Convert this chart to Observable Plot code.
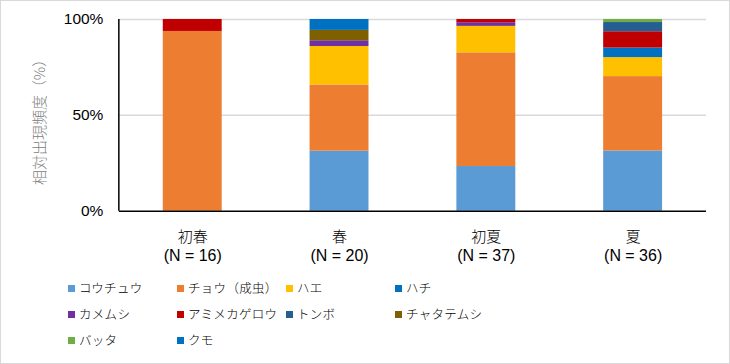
<!DOCTYPE html>
<html>
<head>
<meta charset="utf-8">
<script src="https://cdn.jsdelivr.net/npm/d3@7"></script>
<script src="https://cdn.jsdelivr.net/npm/@observablehq/plot@0.6"></script>
<style>
  html, body { margin: 0; padding: 0; background: #fff; }
  #wrap { position: relative; width: 730px; height: 364px; box-sizing: border-box; border: 1px solid #d9d9d9; overflow: hidden; }
  #chart { position: absolute; left: -1px; top: -1px; }
  .leg { position: absolute; font-family: "Noto Sans CJK JP", sans-serif; font-size: 12.5px; font-weight: 300; color: #000; white-space: nowrap; line-height: 14px; letter-spacing: 0.3px; }
  .sw { display: inline-block; width: 7px; height: 7px; margin-right: 4px; vertical-align: 1px; }
</style>
</head>
<body>
<div id="wrap"><div id="chart"></div></div>
<script>
const seasons = ["初春", "春", "初夏", "夏"];
const sampleN = [16, 20, 37, 36];
const species = ["コウチュウ", "チョウ（成虫）", "ハエ", "ハチ", "カメムシ", "アミメカゲロウ", "トンボ", "チャタテムシ", "バッタ", "クモ"];
const colors = ["#5B9BD5", "#ED7D31", "#FFC000", "#0070C0", "#7030A0", "#C00000", "#255E91", "#7F6000", "#70AD47", "#0070C0"];
// percentage per species (same order as species) for each season
const earlySpring = [0, 93.75, 0, 0, 0, 6.25, 0, 0, 0, 0];
const spring      = [31.3, 34.5, 20.1, 0, 3.0, 0, 0, 5.4, 0, 5.7];
const earlySummer = [23.3, 59.3, 13.8, 0, 1.9, 1.7, 0, 0, 0, 0];
const summer      = [31.4, 38.8, 9.9, 5.0, 0, 8.5, 4.8, 0, 1.6, 0];
const yTicks = [0, 50, 100];
const yTickLabels = ["0%", "50%", "100%"];

const seriesBySeason = [earlySpring, spring, earlySummer, summer];
const rows = [];
seasons.forEach((s, si) => {
  species.forEach((sp, k) => {
    rows.push({season: s, species: sp, value: seriesBySeason[si][k]});
  });
});

const nLabel = new Map(seasons.map((s, i) => [s, `(N = ${sampleN[i]})`]));

// left axis line drawn at the frame's left edge
function leftAxisLine(index, scales, values, dims) {
  return d3.create("svg:line")
    .attr("x1", dims.marginLeft).attr("x2", dims.marginLeft)
    .attr("y1", scales.y(100)).attr("y2", scales.y(0))
    .attr("stroke", "#000").attr("stroke-width", 1.5)
    .node();
}

const plot = Plot.plot({
  width: 730,
  height: 364,
  marginLeft: 119,
  marginRight: 23,
  marginTop: 19,
  marginBottom: 153,
  style: {fontFamily: "'Liberation Sans', Arial, sans-serif", fontSize: "15px", color: "#000", background: "transparent"},
  x: {domain: seasons, paddingInner: 0.6, paddingOuter: 0.3, axis: null},
  y: {domain: [0, 100], axis: null},
  color: {domain: species, range: colors},
  marks: [
    Plot.ruleY(yTicks.filter(d => d > 0), {stroke: "#d9d9d9", strokeWidth: 1.5}),
    Plot.barY(rows, {x: "season", y: "value", fill: "species", order: null}),
    Plot.ruleY([0], {stroke: "#000", strokeWidth: 1.5}),
    leftAxisLine,
    Plot.text(yTicks, {y: d => d, text: (d, i) => yTickLabels[i], frameAnchor: "left", textAnchor: "end", dx: -16, fontSize: 15.5, fill: "#000"}),
    Plot.text(seasons, {x: d => d, text: d => d, frameAnchor: "bottom", lineAnchor: "middle", dy: 26, fontSize: 15, fontWeight: 300, fill: "#000", fontFamily: "'Noto Sans CJK JP', sans-serif"}),
    Plot.text(seasons, {x: d => d, text: d => nLabel.get(d), frameAnchor: "bottom", lineAnchor: "middle", dy: 45, fontSize: 16, fill: "#000"}),
    Plot.text(["相対出現頻度（%）"], {text: d => d, frameAnchor: "left", textAnchor: "middle", dx: -79, dy: 3, rotate: -90, fontSize: 15, fontWeight: 300, fill: "#808080", fontFamily: "'Noto Sans CJK JP', sans-serif"})
  ]
});
document.getElementById("chart").appendChild(plot);

// legend (4 columns)
const wrap = document.getElementById("wrap");
const colX = [67, 176, 285, 394];
const rowY = [280, 306, 332];
species.forEach((sp, i) => {
  const d = document.createElement("div");
  d.className = "leg";
  d.style.left = colX[i % 4] + "px";
  d.style.top = rowY[Math.floor(i / 4)] + "px";
  d.innerHTML = `<span class="sw" style="background:${colors[i]}"></span>${sp}`;
  wrap.appendChild(d);
});
</script>
</body>
</html>
